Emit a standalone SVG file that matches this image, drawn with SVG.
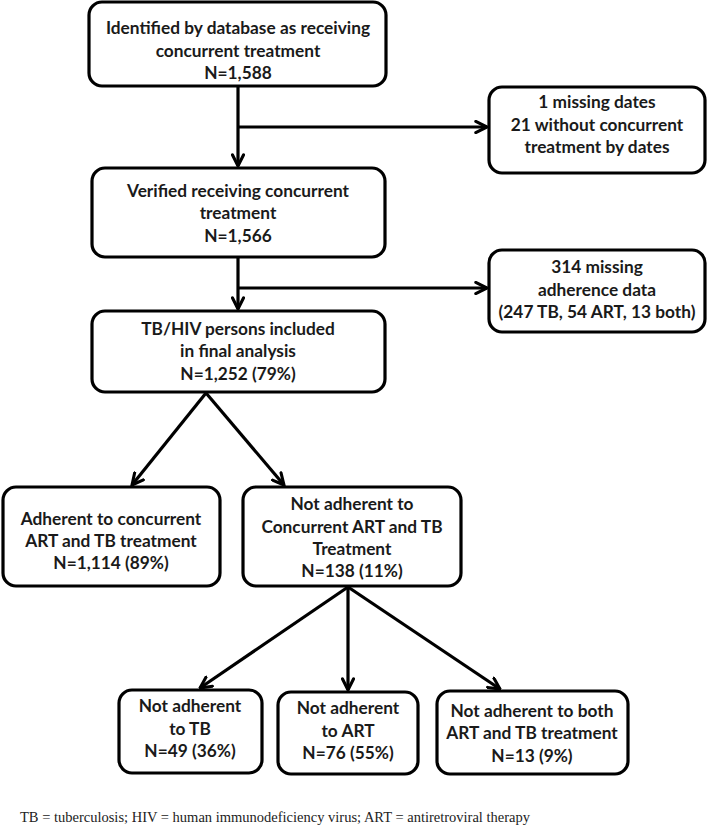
<svg xmlns="http://www.w3.org/2000/svg" width="709" height="828" viewBox="0 0 709 828">
<defs>
<marker id="arr" viewBox="0 0 10 10" refX="9" refY="5" markerWidth="14" markerHeight="14" markerUnits="userSpaceOnUse" orient="auto">
<path d="M1,1 L9,5 L1,9" fill="none" stroke="#000" stroke-width="2.2" stroke-linecap="round" stroke-linejoin="miter"/>
</marker>
<style>
.box{fill:#fff;stroke:#000;stroke-width:3.2}
.t{font-family:Lato,"Liberation Sans",sans-serif;font-weight:bold;font-size:17.3px;fill:#1a1a1a;text-anchor:middle}
.c{fill:none;stroke:#000;stroke-width:3.2}
.foot{font-family:"Liberation Serif",serif;font-size:14.5px;fill:#222}
</style>
</defs>
<rect width="709" height="828" fill="#fff"/>
<g id="connectors">
<line class="c" x1="238" y1="86" x2="238" y2="166" marker-end="url(#arr)"/>
<line class="c" x1="238" y1="127" x2="487" y2="127" marker-end="url(#arr)"/>
<line class="c" x1="238" y1="257" x2="238" y2="309" marker-end="url(#arr)"/>
<line class="c" x1="238" y1="288" x2="487" y2="288" marker-end="url(#arr)"/>
<line class="c" x1="206" y1="393" x2="132" y2="485" marker-end="url(#arr)"/>
<line class="c" x1="206" y1="393" x2="284" y2="485" marker-end="url(#arr)"/>
<line class="c" x1="348" y1="587" x2="200" y2="688" marker-end="url(#arr)"/>
<line class="c" x1="348" y1="587" x2="348" y2="690" marker-end="url(#arr)"/>
<line class="c" x1="348" y1="587" x2="500" y2="689" marker-end="url(#arr)"/>
</g>
<g id="n1">
<rect class="box" x="89" y="2" width="297" height="84" rx="13"/>
<text class="t" x="238" y="34">Identified by database as receiving</text>
<text class="t" x="238" y="57">concurrent treatment</text>
<text class="t" x="238" y="79">N=1,588</text>
</g>
<g id="n_excl1">
<rect class="box" x="489" y="87" width="216" height="86" rx="13"/>
<text class="t" x="597" y="108">1 missing dates</text>
<text class="t" x="597" y="131">21 without concurrent</text>
<text class="t" x="597" y="153">treatment by dates</text>
</g>
<g id="n2">
<rect class="box" x="92" y="168" width="293" height="89" rx="13"/>
<text class="t" x="238" y="197">Verified receiving concurrent</text>
<text class="t" x="238" y="219">treatment</text>
<text class="t" x="238" y="242">N=1,566</text>
</g>
<g id="n_excl2">
<rect class="box" x="489" y="250" width="216" height="82" rx="13"/>
<text class="t" x="597" y="273">314 missing</text>
<text class="t" x="597" y="296">adherence data</text>
<text class="t" x="597" y="318">(247 TB, 54 ART, 13 both)</text>
</g>
<g id="n3">
<rect class="box" x="92" y="311" width="293" height="81" rx="13"/>
<text class="t" x="238" y="335">TB/HIV persons included</text>
<text class="t" x="238" y="357">in final analysis</text>
<text class="t" x="238" y="380">N=1,252 (79%)</text>
</g>
<g id="n4">
<rect class="box" x="3" y="487" width="217" height="99" rx="13"/>
<text class="t" x="111" y="525">Adherent to concurrent</text>
<text class="t" x="111" y="547">ART and TB treatment</text>
<text class="t" x="111" y="569">N=1,114 (89%)</text>
</g>
<g id="n5">
<rect class="box" x="243" y="487" width="218" height="99" rx="13"/>
<text class="t" x="352" y="510">Not adherent to</text>
<text class="t" x="352" y="533">Concurrent ART and TB</text>
<text class="t" x="352" y="555">Treatment</text>
<text class="t" x="352" y="577">N=138 (11%)</text>
</g>
<g id="n6">
<rect class="box" x="119" y="690" width="143" height="83" rx="13"/>
<text class="t" x="190" y="712">Not adherent</text>
<text class="t" x="190" y="735">to TB</text>
<text class="t" x="190" y="757">N=49 (36%)</text>
</g>
<g id="n7">
<rect class="box" x="278" y="692" width="140" height="82" rx="13"/>
<text class="t" x="348" y="714">Not adherent</text>
<text class="t" x="348" y="737">to ART</text>
<text class="t" x="348" y="759">N=76 (55%)</text>
</g>
<g id="n8">
<rect class="box" x="437" y="691" width="191" height="83" rx="13"/>
<text class="t" x="532" y="717">Not adherent to both</text>
<text class="t" x="532" y="739">ART and TB treatment</text>
<text class="t" x="532" y="762">N=13 (9%)</text>
</g>
<text class="foot" x="20" y="822" textLength="510" lengthAdjust="spacingAndGlyphs">TB = tuberculosis; HIV = human immunodeficiency virus; ART = antiretroviral therapy</text>
</svg>
